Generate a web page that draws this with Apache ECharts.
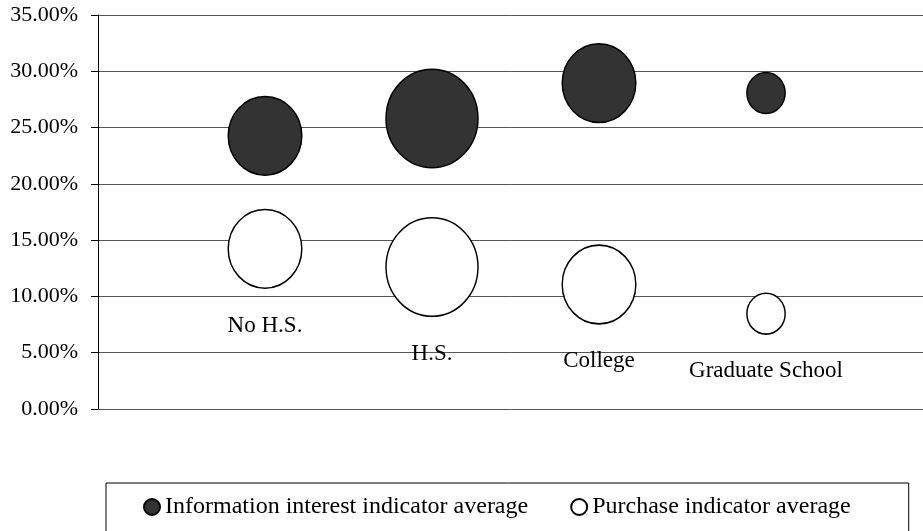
<!DOCTYPE html>
<html>
<head>
<meta charset="utf-8">
<script src="https://cdn.jsdelivr.net/npm/echarts@6/dist/echarts.min.js"></script>
<style>html,body{margin:0;padding:0;background:#fff}#c{width:923px;height:531px}</style>
</head>
<body>
<div id="c"></div>
<script>
const categories = ['No H.S.', 'H.S.', 'College', 'Graduate School'];
const xPositions = [1, 2, 3, 4];
const infoInterest = [24.27, 25.81, 28.95, 28.07];
const purchase = [14.23, 12.61, 11.06, 8.47];
const bubbleSizes = [64, 100, 64, 17.3];
const yTicks = [0, 5, 10, 15, 20, 25, 30, 35];
const seriesNames = ['Information interest indicator average', 'Purchase indicator average'];

const FONT = 'Liberation Serif';
function toPoints(vals) {
  return vals.map((v, i) => [xPositions[i], v, bubbleSizes[i]]);
}
function bubble(val) {
  const w = 92 * Math.sqrt(val[2] / 100);
  return [w, w * 1.07];
}

const chart = echarts.init(document.getElementById('c'), null, {renderer: 'canvas'});
chart.setOption({
  animation: false,
  backgroundColor: '#fff',
  grid: {left: 98, right: 0, top: 15, bottom: 122},
  xAxis: {type: 'value', min: 0, max: 4.94, show: false},
  yAxis: {
    type: 'value', min: yTicks[0], max: yTicks[yTicks.length - 1], interval: 5,
    axisLine: {show: true, lineStyle: {color: '#000', width: 1}},
    axisTick: {show: true, length: 7, lineStyle: {color: '#000'}},
    splitLine: {show: true, lineStyle: {color: '#555', width: 1}},
    axisLabel: {
      margin: 20, color: '#000', fontFamily: FONT, fontSize: 22, padding: [6, 0, 0, 0],
      formatter: v => v.toFixed(2) + '%'
    }
  },
  legend: {
    left: 106, top: 483,
    padding: [12, 58, 20, 37],
    itemGap: 42, itemWidth: 16, itemHeight: 16,
    borderColor: '#000', borderWidth: 1,
    icon: 'circle',
    textStyle: {fontFamily: FONT, fontSize: 24, color: '#000'},
    data: seriesNames
  },
  series: [
    {
      name: seriesNames[0], type: 'scatter',
      data: toPoints(infoInterest),
      symbolSize: bubble,
      itemStyle: {color: '#333333', borderColor: '#000', borderWidth: 1.5, opacity: 1}
    },
    {
      name: seriesNames[1], type: 'scatter',
      data: toPoints(purchase),
      symbolSize: bubble,
      itemStyle: {color: '#ffffff', borderColor: '#000', borderWidth: 1.5, opacity: 1},
      label: {
        show: true, position: 'bottom', distance: 25,
        fontFamily: FONT, fontSize: 23, color: '#000',
        formatter: p => categories[p.dataIndex]
      }
    }
  ]
});
</script>
</body>
</html>
